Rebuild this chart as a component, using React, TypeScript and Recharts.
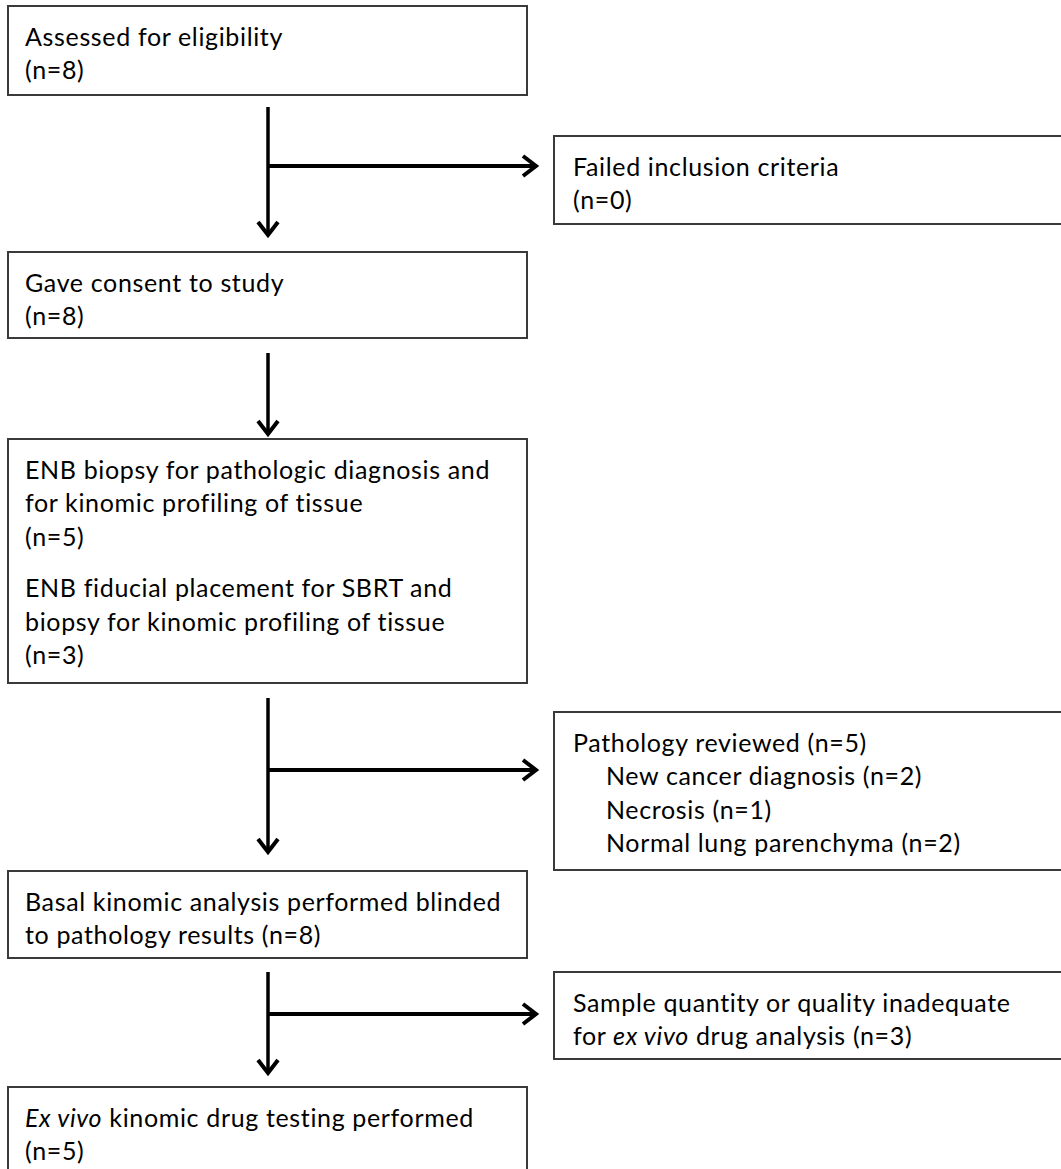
import { ScatterChart, Scatter, XAxis, YAxis, ReferenceArea, ReferenceLine } from 'recharts'

// ---------------------------------------------------------------------------
// Data: flow text (paragraphs of lines, _italic_ markup)
// ---------------------------------------------------------------------------

const mainSteps: string[][][] = [
  [['Assessed for eligibility', '(n=8)']],
  [['Gave consent to study', '(n=8)']],
  [
    ['ENB biopsy for pathologic diagnosis and', 'for kinomic profiling of tissue', '(n=5)'],
    ['ENB fiducial placement for SBRT and', 'biopsy for kinomic profiling of tissue', '(n=3)'],
  ],
  [['Basal kinomic analysis performed blinded', 'to pathology results (n=8)']],
  [['_Ex vivo_ kinomic drug testing performed', '(n=5)']],
]

const exclusionSteps: string[][][] = [
  [['Failed inclusion criteria', '(n=0)']],
  [['Pathology reviewed (n=5)']],
  [['Sample quantity or quality inadequate', 'for _ex vivo_ drug analysis (n=3)']],
]

// sub-groups listed (indented) under "Pathology reviewed"
const pathologyGroups = ['New cancer diagnosis', 'Necrosis', 'Normal lung parenchyma']
const pathologyCounts = [2, 1, 2]

// ---------------------------------------------------------------------------
// Layout (pixel space of the 1061 x 1169 canvas)
// ---------------------------------------------------------------------------

const W = 1061
const H = 1169
const MAIN_X = [8, 527]
const SIDE_X = [554, 1080]
const mainBoxY = [[6, 95], [252, 338], [439, 683], [871, 958], [1087, 1190]]
const sideBoxY = [[136, 224], [712, 870], [972, 1059]]
const MAIN_TEXT_X = 25
const SIDE_TEXT_X = 573
const INDENT_X = 606
const FIRST_BASELINE = 39.5
const LINE_GAP = 33.5
const PARA_GAP = 18

const SPINE_X = 268
const spineSpans = [[107, 238], [353, 437], [698, 855], [972, 1076]]
const branchRows = [166, null, 770, 1014]
const BRANCH_TIP_X = 539

const FONT = 'Lato, "Open Sans", sans-serif'
const FONT_SIZE = 25
const LETTER_SPACING = 0.65
const BOX_STROKE = '#3a3a3a'

// ---------------------------------------------------------------------------
// Build text points
// ---------------------------------------------------------------------------

interface TextPoint {
  x: number
  y: number
  line: string
}

function layoutText(paras: string[][], top: number, x: number): TextPoint[] {
  const pts: TextPoint[] = []
  let y = top + FIRST_BASELINE
  paras.forEach((lines, p) => {
    if (p > 0) y += PARA_GAP
    lines.forEach((line) => {
      pts.push({ x, y, line })
      y += LINE_GAP
    })
  })
  return pts
}

const textPoints: TextPoint[] = [
  ...mainSteps.flatMap((paras, i) => layoutText(paras, mainBoxY[i][0], MAIN_TEXT_X)),
  ...exclusionSteps.flatMap((paras, i) => layoutText(paras, sideBoxY[i][0], SIDE_TEXT_X)),
  ...pathologyGroups.map((g, i) => ({
    x: INDENT_X,
    y: sideBoxY[1][0] + FIRST_BASELINE + (i + 1) * LINE_GAP,
    line: `${g} (n=${pathologyCounts[i]})`,
  })),
]

const tipPoints = [
  ...spineSpans.map(([, y2]) => ({ x: SPINE_X, y: y2, dir: 'down' })),
  ...branchRows
    .filter((r): r is number => r !== null)
    .map((r) => ({ x: BRANCH_TIP_X, y: r, dir: 'right' })),
]

// ---------------------------------------------------------------------------
// Shapes
// ---------------------------------------------------------------------------

function TextLine(props: any) {
  const { cx, cy, payload } = props
  const parts = (payload.line as string).split('_')
  return (
    <text
      x={cx}
      y={cy}
      fontFamily={FONT}
      fontSize={FONT_SIZE}
      letterSpacing={LETTER_SPACING}
      fill="#000"
      style={{ whiteSpace: 'pre' }}
    >
      {parts.map((t, i) => (
        <tspan key={i} fontStyle={i % 2 === 1 ? 'italic' : 'normal'}>
          {t}
        </tspan>
      ))}
    </text>
  )
}

function ArrowTip(props: any) {
  const { cx, cy, payload } = props
  const a = 13
  const b = 10
  const pts =
    payload.dir === 'down'
      ? `${cx - b},${cy - a - 3} ${cx},${cy - 3} ${cx + b},${cy - a - 3}`
      : `${cx - a - 3},${cy - b} ${cx - 3},${cy} ${cx - a - 3},${cy + b}`
  return <polyline points={pts} fill="none" stroke="#000" strokeWidth={4} strokeLinejoin="miter" />
}

// ---------------------------------------------------------------------------
// App
// ---------------------------------------------------------------------------

export default function App() {
  return (
    <div style={{ position: 'absolute', left: 0, top: 0, width: W, height: H, background: '#fff' }}>
      <ScatterChart width={W} height={H} margin={{ top: 0, right: 0, bottom: 0, left: 0 }}>
        <XAxis type="number" dataKey="x" domain={[0, W]} hide allowDataOverflow />
        <YAxis type="number" dataKey="y" domain={[0, H]} reversed hide allowDataOverflow />

        {/* boxes */}
        {mainBoxY.map(([y1, y2], i) => (
          <ReferenceArea
            key={`m${i}`}
            x1={MAIN_X[0]}
            x2={MAIN_X[1]}
            y1={y1}
            y2={y2}
            fill="#fff"
            fillOpacity={1}
            stroke={BOX_STROKE}
            strokeWidth={2}
            ifOverflow="visible"
          />
        ))}
        {sideBoxY.map(([y1, y2], i) => (
          <ReferenceArea
            key={`s${i}`}
            x1={SIDE_X[0]}
            x2={SIDE_X[1]}
            y1={y1}
            y2={y2}
            fill="#fff"
            fillOpacity={1}
            stroke={BOX_STROKE}
            strokeWidth={2}
            ifOverflow="visible"
          />
        ))}

        {/* connectors */}
        {spineSpans.map(([y1, y2], i) => (
          <ReferenceLine
            key={`v${i}`}
            segment={[
              { x: SPINE_X, y: y1 },
              { x: SPINE_X, y: y2 - 4 },
            ]}
            stroke="#000"
            strokeWidth={3.5}
            ifOverflow="visible"
          />
        ))}
        {branchRows.map((r, i) =>
          r === null ? null : (
            <ReferenceLine
              key={`h${i}`}
              segment={[
                { x: SPINE_X, y: r },
                { x: BRANCH_TIP_X - 4, y: r },
              ]}
              stroke="#000"
              strokeWidth={4}
              ifOverflow="visible"
            />
          ),
        )}

        <Scatter data={tipPoints} shape={ArrowTip} isAnimationActive={false} />
        <Scatter data={textPoints} shape={TextLine} isAnimationActive={false} />
      </ScatterChart>
    </div>
  )
}
